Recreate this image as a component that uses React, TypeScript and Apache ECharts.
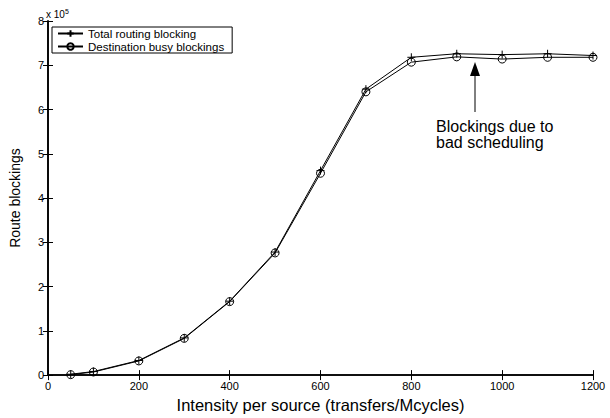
import React, { useEffect, useRef } from "react";
import * as echarts from "echarts";

const xValues = [50, 100, 200, 300, 400, 500, 600, 700, 800, 900, 1000, 1100, 1200];
const totalRouting = [0.02, 0.08, 0.33, 0.84, 1.67, 2.78, 4.62, 6.46, 7.18, 7.26, 7.24, 7.26, 7.22];
const destBusy = [0.01, 0.07, 0.32, 0.83, 1.66, 2.76, 4.56, 6.40, 7.07, 7.19, 7.14, 7.18, 7.18];
const seriesNames = ["Total routing blocking", "Destination busy blockings"];
const xAxisName = "Intensity per source (transfers/Mcycles)";
const yAxisName = "Route blockings";
const annotation = "Blockings due to\nbad scheduling";

const FONT = "'Liberation Sans', Arial, Helvetica, sans-serif";
const PLUS = "path://M0,5L10,5M5,0L5,10";

export default function App() {
  const ref = useRef<HTMLDivElement>(null);
  useEffect(() => {
    document.body.style.margin = "0";
    const chart = echarts.init(ref.current!, null, { renderer: "svg" });
    const axisLine = { show: true, lineStyle: { color: "#000", width: 1.6 } };
    const tick = { show: true, inside: true, length: 5, lineStyle: { color: "#000", width: 1 } };
    const label = { color: "#000", fontSize: 11, fontFamily: FONT };
    chart.setOption({
      animation: false,
      backgroundColor: "#fff",
      textStyle: { fontFamily: FONT },
      grid: { left: 46, right: 17, top: 21, bottom: 35, containLabel: false },
      legend: {
        left: 52,
        top: 27,
        orient: "vertical",
        backgroundColor: "#fff",
        borderColor: "#000",
        borderWidth: 1,
        borderRadius: 0,
        padding: [0, 8, 0, 5],
        itemGap: 0,
        itemWidth: 25,
        itemHeight: 8,
        textStyle: { color: "#000", fontSize: 11.5, fontFamily: FONT, lineHeight: 13 },
        data: seriesNames,
      },
      xAxis: [
        {
          type: "value",
          min: 0,
          max: 1200,
          interval: 200,
          position: "bottom",
          axisLine,
          axisTick: tick,
          axisLabel: { ...label, margin: 5, formatter: (v: number) => String(v) },
          splitLine: { show: false },
          name: xAxisName,
          nameLocation: "middle",
          nameGap: 19,
          nameTextStyle: { color: "#000", fontSize: 16.5, fontFamily: FONT },
        },
        {
          type: "value",
          min: 0,
          max: 1200,
          interval: 200,
          position: "top",
          axisLine,
          axisTick: tick,
          axisLabel: { show: false },
          splitLine: { show: false },
        },
      ],
      yAxis: [
        {
          type: "value",
          min: 0,
          max: 8,
          interval: 1,
          position: "left",
          axisLine,
          axisTick: tick,
          axisLabel: { ...label, margin: 4 },
          splitLine: { show: false },
          name: yAxisName,
          nameLocation: "middle",
          nameGap: 26,
          nameTextStyle: { color: "#000", fontSize: 14, fontFamily: FONT },
        },
        {
          type: "value",
          min: 0,
          max: 8,
          interval: 1,
          position: "right",
          axisLine,
          axisTick: tick,
          axisLabel: { show: false },
          splitLine: { show: false },
        },
      ],
      series: [
        {
          name: seriesNames[0],
          type: "line",
          data: xValues.map((x, i) => [x, totalRouting[i]]),
          symbol: PLUS,
          symbolSize: 8,
          showAllSymbol: true,
          lineStyle: { color: "#000", width: 1 },
          itemStyle: { color: "#000", borderColor: "#000", borderWidth: 1 },
        },
        {
          name: seriesNames[1],
          type: "line",
          data: xValues.map((x, i) => [x, destBusy[i]]),
          symbol: "circle",
          symbolSize: 8,
          showAllSymbol: true,
          lineStyle: { color: "#000", width: 1 },
          itemStyle: { color: "rgba(0,0,0,0)", borderColor: "#000", borderWidth: 1 },
        },
      ],
      graphic: [
        {
          type: "text",
          left: 46,
          top: 8,
          style: {
            text: "x 10{s|5}",
            fill: "#000",
            font: `10px ${FONT}`,
            rich: { s: { fontSize: 7, verticalAlign: "top", padding: [0, 0, 6, 0], fill: "#000" } },
          },
        },
        {
          type: "line",
          shape: { x1: 475, y1: 112, x2: 475, y2: 72 },
          style: { stroke: "#000", lineWidth: 1 },
        },
        {
          type: "polygon",
          shape: { points: [[475, 62], [470, 76], [480, 76]] },
          style: { fill: "#000" },
        },
        {
          type: "text",
          left: 436,
          top: 118,
          style: { text: annotation, fill: "#000", font: `16px ${FONT}`, lineHeight: 16 },
        },
      ],
    });
    return () => chart.dispose();
  }, []);
  return <div ref={ref} style={{ width: 610, height: 418 }} />;
}
